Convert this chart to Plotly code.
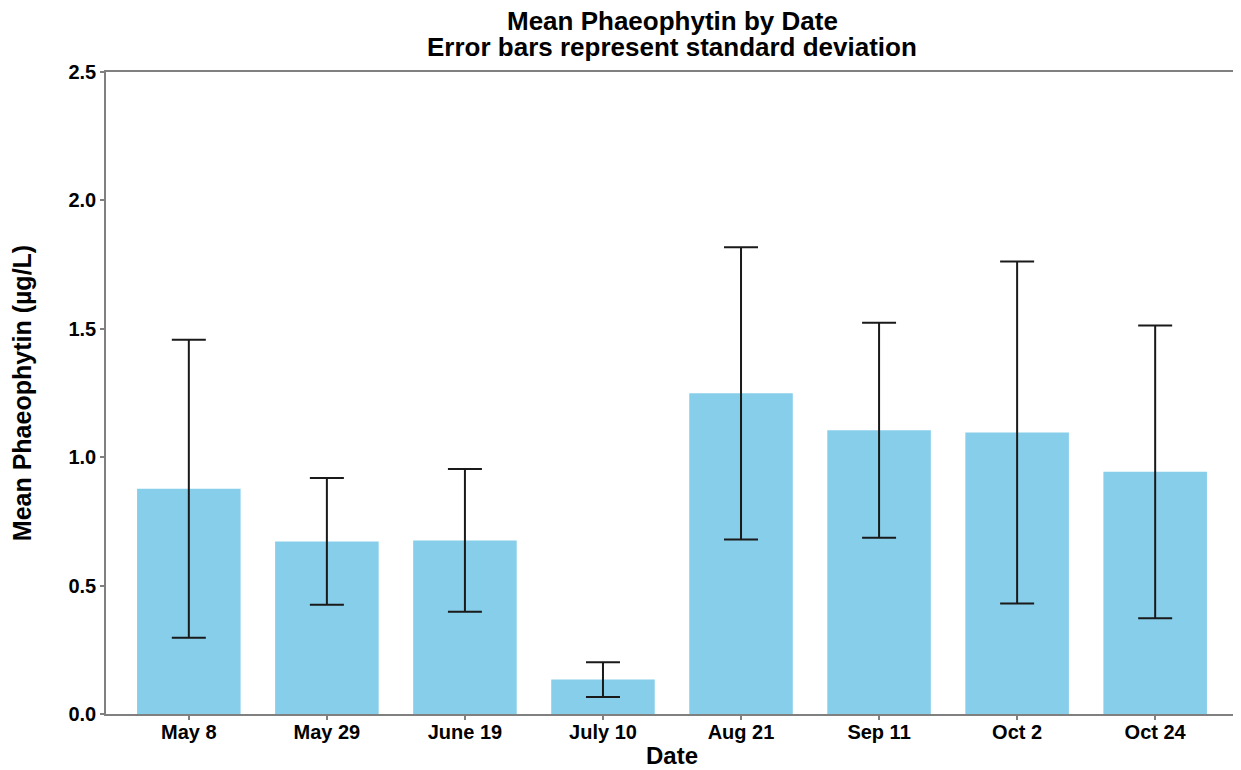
import plotly.graph_objects as go

# Mean phaeophytin per sampling date, with standard deviation
dates = ["May 8", "May 29", "June 19", "July 10", "Aug 21", "Sep 11", "Oct 2", "Oct 24"]
mean_phaeo = [0.877, 0.672, 0.676, 0.134, 1.249, 1.105, 1.096, 0.943]
sd_phaeo = [0.580, 0.247, 0.278, 0.068, 0.569, 0.419, 0.666, 0.570]

font_family = "Liberation Sans, Arial, sans-serif"
axis_col = "#808080"

# page body has an 8px margin, so size the figure to fit the window
W, H = 1233, 762
L, R, T, B = 98, 3, 64, 56
plot_h = H - T - B


def paper_y(py):
    # pixel row in the figure -> paper coordinate
    return (H - B - py) / plot_h


fig = go.Figure()
fig.add_trace(go.Bar(
    x=list(range(len(dates))), y=mean_phaeo,
    width=0.75,
    marker=dict(color="#87CEEB", line=dict(width=0)),
    error_y=dict(type="data", array=sd_phaeo, visible=True,
                 color="#1a1a1a", thickness=2, width=17),
))

fig.update_layout(
    width=W, height=H,
    margin=dict(l=L, r=R, t=T, b=B),
    paper_bgcolor="white", plot_bgcolor="white",
    showlegend=False,
    font=dict(family=font_family, color="black"),
)

# two title lines as annotations, to keep the tight line spacing
fig.add_annotation(text="Mean Phaeophytin by Date", xref="paper", yref="paper",
                   x=0.5, y=paper_y(13), xanchor="center", yanchor="middle",
                   showarrow=False, font=dict(size=26, weight="bold"))
fig.add_annotation(text="Error bars represent standard deviation", xref="paper", yref="paper",
                   x=0.5, y=paper_y(39), xanchor="center", yanchor="middle",
                   showarrow=False, font=dict(size=26, weight="bold"))
fig.add_annotation(text="Date", xref="paper", yref="paper",
                   x=0.5, y=paper_y(748), xanchor="center", yanchor="middle",
                   showarrow=False, font=dict(size=24, weight="bold"))

fig.update_xaxes(
    tickmode="array", tickvals=list(range(len(dates))), ticktext=dates,
    range=[-0.6, 7.6], automargin=False,
    showline=True, linecolor=axis_col, linewidth=1.5, mirror=True,
    ticks="outside", ticklen=4, tickcolor=axis_col, tickwidth=1.5,
    showgrid=False, zeroline=False,
    tickfont=dict(size=20, weight="bold"), ticklabelstandoff=-5,
)
fig.update_yaxes(
    range=[0, 2.5], tickvals=[0, 0.5, 1.0, 1.5, 2.0, 2.5], tickformat=".1f",
    automargin=False,
    showline=True, linecolor=axis_col, linewidth=1.5, mirror=True,
    ticks="outside", ticklen=4, tickcolor=axis_col, tickwidth=1.5,
    showgrid=False, zeroline=False,
    tickfont=dict(size=20, weight="bold"),
    title=dict(text="Mean Phaeophytin (µg/L)", font=dict(size=25, weight="bold"), standoff=31),
)

fig.write_html("out.html")
